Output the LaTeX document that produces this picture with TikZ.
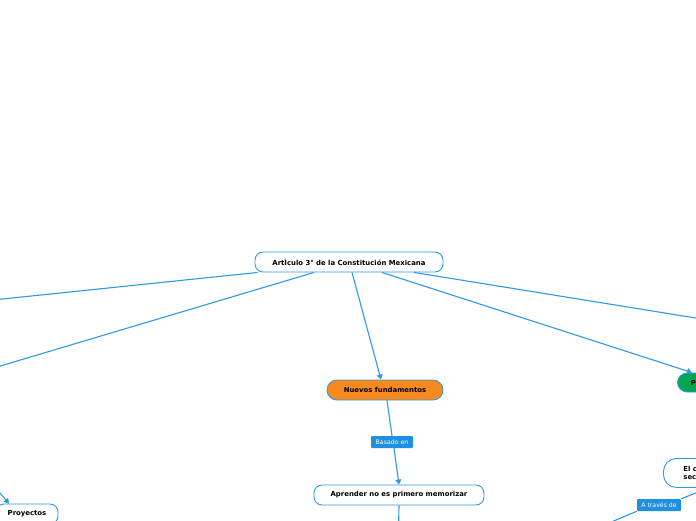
\documentclass[tikz,border=0pt]{standalone}
\usepackage{fontspec}
\setmainfont{DejaVu Sans}
\usetikzlibrary{arrows.meta}
\definecolor{mmblue}{HTML}{2E9BE0}
\definecolor{lblblue}{HTML}{1E8FE1}
\definecolor{mmorange}{HTML}{F7891F}
\definecolor{mmgreen}{HTML}{00A652}
\tikzset{
  topic/.style={draw=mmblue, line width=0.9pt, rounded corners=8pt, fill=white,
    minimum height=20pt, inner sep=2pt, font=\bfseries\fontsize{6.9}{8}\selectfont, text=black},
  lbl/.style={fill=lblblue, text=white, rounded corners=1pt, minimum height=12pt,
    inner xsep=2pt, inner ysep=1pt, font=\fontsize{6.2}{7}\selectfont},
  conn/.style={draw=mmblue, line width=1.1pt},
  arr/.style={conn, -{Triangle[length=5pt,width=6pt]}}
}
\begin{document}
\begin{tikzpicture}[x=1pt,y=-1pt]
\clip (0,0) rectangle (696,520);
\fill[white] (0,0) rectangle (696,520);

% nodes
\node[topic, minimum width=188pt] (root) at (349,262) {ArtÍculo 3° de la Constitución Mexicana};
\node[topic, minimum width=116pt, fill=mmorange, rounded corners=10pt] (nuevos) at (385,390) {Nuevos fundamentos};
\node[lbl, minimum width=42pt] (basado) at (392,442) {Basado en};
\node[topic, minimum width=170pt] (aprender) at (399,495) {Aprender no es primero memorizar};
\node[topic, fill=mmgreen, rounded corners=10pt, minimum height=19pt, anchor=west,
  text width=30pt, align=left, inner xsep=13.5pt] (green) at (677,382.5) {P};
\node[topic, rounded corners=13pt, minimum height=29pt, anchor=north west,
  text width=30pt, align=left, inner xsep=20pt] (elc) at (663,458) {El c\\sec};
\node[lbl, minimum width=44pt] (traves) at (659,505) {A través de};
\node[topic, minimum width=62pt] (proy) at (27,514) {Proyectos};

% off-canvas coordinates
\coordinate (offL1) at (-60,305.5);
\coordinate (offL2) at (-60,384);
\coordinate (offR1) at (760,328.4);
\coordinate (offB) at (398,560);
\coordinate (offBR) at (590,531);
\coordinate (offPL) at (-20,469.5);

% connectors
\draw[conn] ([xshift=3pt]root.south west) -- (offL1);
\draw[conn] ([xshift=-35pt]root.south) -- (offL2);
\draw[arr] ([xshift=3pt]root.south) -- ([xshift=-4pt]nuevos.north);
\draw[arr] ([xshift=33pt]root.south) -- ([xshift=-14pt]green.north);
\draw[conn] ([xshift=65pt]root.south) -- (offR1);
\draw[conn] ([xshift=2pt]nuevos.south) -- (basado.north);
\draw[arr] ([xshift=2pt]basado.south) -- (aprender.north);
\draw[conn] (aprender.south) -- (offB);
\draw[conn] ([xshift=10pt]elc.south) -- (traves.north east);
\draw[conn] (traves.south west) -- (offBR);
\draw[arr] (offPL) -- ([xshift=-18pt]proy.north);
\end{tikzpicture}
\end{document}
